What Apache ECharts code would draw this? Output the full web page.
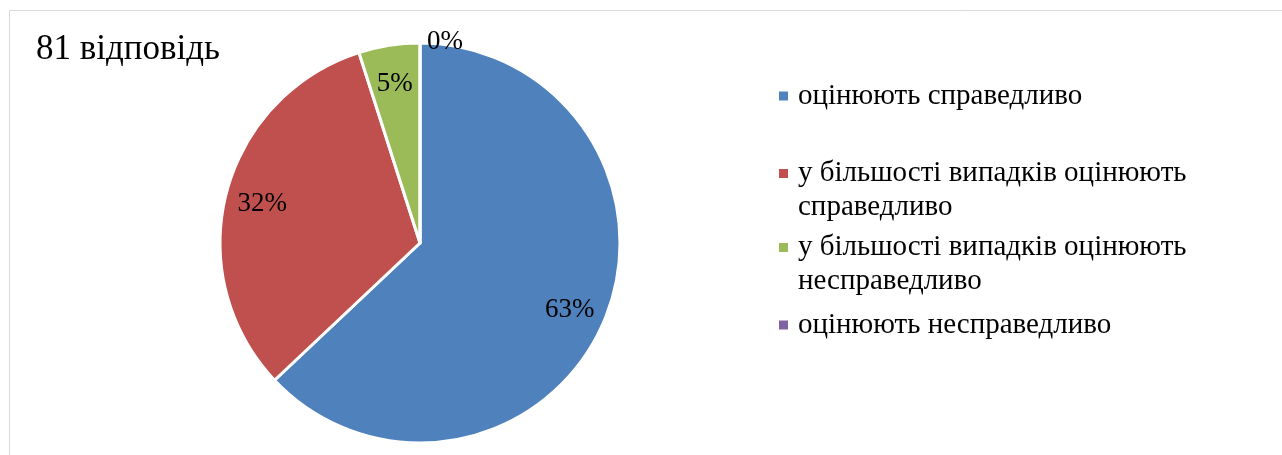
<!DOCTYPE html>
<html>
<head>
<meta charset="utf-8">
<title>81 відповідь</title>
<script src="https://cdn.jsdelivr.net/npm/echarts@6/dist/echarts.min.js"></script>
<style>
  html, body { margin: 0; padding: 0; background: #fff; }
  #chart { width: 1282px; height: 455px; }
</style>
</head>
<body>
<div id="chart"></div>
<script>
  // answers (81 in total)
  var categories = [
    'оцінюють справедливо',
    'у більшості випадків оцінюють\nсправедливо',
    'у більшості випадків оцінюють\nнесправедливо',
    'оцінюють несправедливо'
  ];
  var counts = [51, 26, 4, 0];
  var colors = ['#4F81BD', '#C0504D', '#9BBB59', '#8064A2'];
  var titleText = '81 відповідь';

  var serif = '"Liberation Serif", "Times New Roman", serif';

  // legend icons: a 9px square inside a taller box so it sits on the first text line
  var iconFirstLine = 'path://M0,0h9v9h-9z M0,42h0.01v0.01h-0.01z';
  var iconMiddle = 'path://M0,0h0.01v0.01h-0.01z M0,16.5h9v9h-9z M0,42h0.01v0.01h-0.01z';

  var chart = echarts.init(document.getElementById('chart'));

  var pieData = categories.map(function (name, i) {
    return { name: name, value: counts[i], itemStyle: { color: colors[i] } };
  });

  var labelData = categories.map(function (name, i) {
    var item = { name: name, value: counts[i] };
    if (counts[i] === 0) {
      // empty slice: label sits just outside the top of the pie
      item.label = { offset: [25, -38] };
    }
    return item;
  });

  var legendText = {
    fontFamily: serif,
    fontSize: 29,
    lineHeight: 34,
    color: '#000',
    padding: [0, 0, 0, 5]
  };

  chart.setOption({
    animation: false,
    title: {
      text: titleText,
      left: 36,
      top: 32,
      padding: 0,
      textStyle: {
        fontFamily: serif,
        fontSize: 35,
        fontWeight: 'normal',
        color: '#000'
      }
    },
    legend: [{
      data: [categories[0]],
      orient: 'vertical',
      left: 779,
      top: 79,
      padding: 0,
      icon: 'rect',
      itemWidth: 9,
      itemHeight: 9,
      selectedMode: false,
      itemStyle: { borderWidth: 0 },
      textStyle: legendText
    }, {
      data: [
        { name: categories[1], icon: iconFirstLine },
        { name: categories[2], icon: iconFirstLine },
        { name: categories[3], icon: iconMiddle }
      ],
      orient: 'vertical',
      left: 779,
      top: 156,
      padding: 0,
      itemGap: 6,
      itemWidth: 9,
      itemHeight: 42,
      selectedMode: false,
      itemStyle: { borderWidth: 0 },
      textStyle: legendText
    }],
    graphic: [{
      type: 'rect',
      shape: { x: 9.5, y: 10.5, width: 1400, height: 600 },
      style: { fill: 'none', stroke: '#d9d9d9', lineWidth: 1 },
      silent: true,
      z: -1
    }],
    series: [{
      name: 'pie',
      type: 'pie',
      center: [420, 243],
      radius: [0, 200],
      startAngle: 90,
      clockwise: true,
      data: pieData,
      label: { show: false },
      labelLine: { show: false },
      itemStyle: { borderColor: '#fff', borderWidth: 3 },
      emphasis: { disabled: true }
    }, {
      name: 'labels',
      type: 'pie',
      center: [420, 243],
      radius: [120, 200],
      startAngle: 90,
      clockwise: true,
      silent: true,
      avoidLabelOverlap: false,
      data: labelData,
      itemStyle: { color: 'rgba(0,0,0,0)', borderWidth: 0 },
      labelLine: { show: false },
      emphasis: { disabled: true },
      label: {
        show: true,
        position: 'inside',
        offset: [0, 2],
        fontFamily: serif,
        fontSize: 27,
        color: '#000',
        formatter: function (p) {
          return Math.round(p.percent) + '%';
        }
      }
    }]
  });
</script>
</body>
</html>
